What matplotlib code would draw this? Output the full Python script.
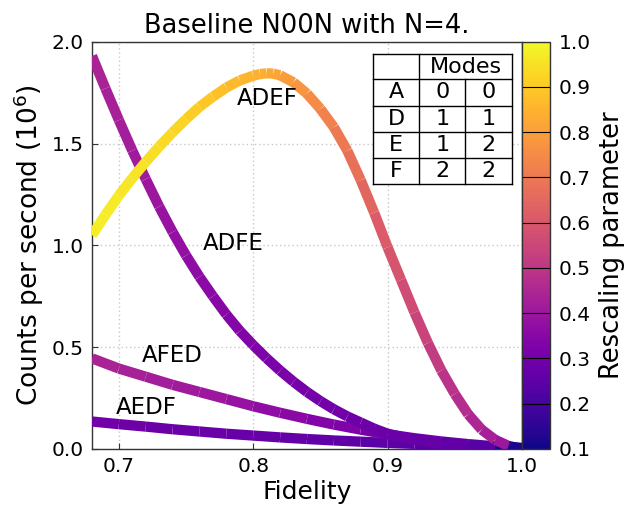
import numpy as np
import matplotlib
matplotlib.use("Agg")
import matplotlib.pyplot as plt
from matplotlib.collections import LineCollection
from matplotlib.colors import Normalize
from matplotlib.cm import ScalarMappable
from matplotlib.lines import Line2D

plt.rcParams["font.family"] = ["DejaVu Sans"]

# ---- data -------------------------------------------------------------
adef_fid = [0.68, 0.69, 0.70, 0.71, 0.72, 0.73, 0.74, 0.75, 0.76, 0.77, 0.78,
            0.79, 0.80, 0.805, 0.81, 0.815, 0.82, 0.83, 0.84, 0.85, 0.86, 0.87, 0.88, 0.89,
            0.90, 0.91, 0.92, 0.93, 0.94, 0.95, 0.96, 0.97, 0.98, 0.99, 1.00]
adef_rate = [1.05, 1.15, 1.245, 1.33, 1.41, 1.485, 1.555, 1.62, 1.68, 1.73, 1.775,
             1.81, 1.833, 1.841, 1.845, 1.843, 1.835, 1.80, 1.745, 1.67, 1.58, 1.465, 1.32, 1.16,
             0.99, 0.83, 0.67, 0.52, 0.385, 0.27, 0.17, 0.095, 0.045, 0.015, 0.0]
adef_scale = [0.98, 0.975, 0.97, 0.96, 0.955, 0.945, 0.935, 0.925, 0.91, 0.895, 0.88,
              0.865, 0.85, 0.842, 0.835, 0.825, 0.815, 0.795, 0.775, 0.75, 0.725, 0.70, 0.675, 0.645,
              0.615, 0.59, 0.565, 0.54, 0.515, 0.49, 0.47, 0.45, 0.43, 0.40, 0.12]

adfe_fid = [0.68, 0.69, 0.70, 0.71, 0.72, 0.73, 0.74, 0.75, 0.76, 0.77, 0.78, 0.79,
            0.80, 0.81, 0.82, 0.83, 0.84, 0.85, 0.86, 0.87, 0.88, 0.89, 0.90,
            0.92, 0.94, 0.96, 0.98, 1.00]
adfe_rate = [1.93, 1.77, 1.615, 1.465, 1.325, 1.19, 1.065, 0.95, 0.845, 0.75, 0.66, 0.58,
             0.51, 0.445, 0.385, 0.33, 0.28, 0.235, 0.195, 0.16, 0.13, 0.10, 0.075,
             0.045, 0.027, 0.016, 0.008, 0.0]
adfe_scale = [0.45, 0.44, 0.43, 0.42, 0.41, 0.40, 0.39, 0.38, 0.37, 0.36, 0.35, 0.342,
              0.335, 0.328, 0.32, 0.315, 0.31, 0.305, 0.30, 0.295, 0.29, 0.287, 0.285,
              0.28, 0.27, 0.26, 0.24, 0.12]

afed_fid = [0.68, 0.70, 0.72, 0.74, 0.76, 0.78, 0.80, 0.82, 0.84, 0.86, 0.88,
            0.90, 0.92, 0.94, 0.96, 0.98, 1.00]
afed_rate = [0.445, 0.395, 0.355, 0.315, 0.28, 0.245, 0.21, 0.178, 0.148, 0.12, 0.095,
             0.072, 0.053, 0.037, 0.024, 0.013, 0.005]
afed_scale = [0.45, 0.44, 0.43, 0.42, 0.41, 0.40, 0.385, 0.37, 0.355, 0.34, 0.325,
              0.31, 0.295, 0.28, 0.265, 0.24, 0.12]

aedf_fid = [0.68, 0.70, 0.72, 0.74, 0.76, 0.78, 0.80, 0.82, 0.84, 0.86, 0.88,
            0.90, 0.92, 0.94, 0.96, 0.98, 1.00]
aedf_rate = [0.135, 0.122, 0.11, 0.097, 0.086, 0.075, 0.066, 0.057, 0.049, 0.042, 0.036,
             0.03, 0.025, 0.02, 0.015, 0.01, 0.005]
aedf_scale = [0.30, 0.295, 0.29, 0.285, 0.28, 0.277, 0.273, 0.27, 0.265, 0.26, 0.255,
              0.25, 0.245, 0.235, 0.22, 0.20, 0.12]

curve_names = ["ADEF", "ADFE", "AFED", "AEDF"]
label_pos = [(0.8105, 1.719), (0.7848, 1.007), (0.7399, 0.457), (0.7201, 0.206)]

table_rows = ["A", "D", "E", "F"]
table_modes = [(0, 0), (1, 1), (1, 2), (2, 2)]

x_ticks = [0.7, 0.8, 0.9, 1.0]
y_ticks = [0.0, 0.5, 1.0, 1.5, 2.0]
cbar_ticks = [0.1, 0.2, 0.3, 0.4, 0.5, 0.6, 0.7, 0.8, 0.9, 1.0]

# ---- figure -----------------------------------------------------------
W, H = 641, 512
fig = plt.figure(figsize=(W / 100, H / 100), dpi=100)

def fx(px):
    return px / W

def fy(py):
    return 1 - py / H

ax = fig.add_axes([fx(92), fy(449), fx(522) - fx(92), fy(41.7) - fy(449)])
cax = fig.add_axes([fx(522), fy(449), fx(550) - fx(522), fy(41.7) - fy(449)])

norm = Normalize(vmin=0.1, vmax=1.0)
cmap = plt.get_cmap("plasma")

ax.grid(True, color="#c8c8c8", linestyle=(0, (1, 2)), linewidth=1.0)
ax.set_axisbelow(True)

series = [(adef_fid, adef_rate, adef_scale),
          (adfe_fid, adfe_rate, adfe_scale),
          (afed_fid, afed_rate, afed_scale),
          (aedf_fid, aedf_rate, aedf_scale)]

for fid, rate, scale in reversed(series):
    pts = np.column_stack([fid, rate])
    segs = np.stack([pts[:-1], pts[1:]], axis=1)
    lc = LineCollection(segs, colors=cmap(norm(np.asarray(scale[1:]))),
                        linewidths=7.4, capstyle="butt", joinstyle="round", zorder=3)
    ax.add_collection(lc)

for name, (lx, ly) in zip(curve_names, label_pos):
    ax.text(lx, ly, name, fontsize=16.5, ha="center", va="center", zorder=5)

ax.set_xlim(0.68, 1.0)
ax.set_ylim(0.0, 2.0)
ax.set_xticks(x_ticks)
ax.set_xticklabels([f"{t:.1f}" for t in x_ticks])
ax.set_yticks(y_ticks)
ax.set_yticklabels([f"{t:.1f}" for t in y_ticks])
ax.tick_params(direction="in", length=4, width=0.8, labelsize=14.5, color="#333333",
               top=False, right=False, pad=6)
for sp in ax.spines.values():
    sp.set_color("#333333")
    sp.set_linewidth(1.0)

ax.set_xlabel("Fidelity", fontsize=18, labelpad=3)
ax.set_ylabel("Counts per second ($10^6$)", fontsize=19, labelpad=4)
ax.set_title("Baseline N00N with N=4.", fontsize=18.5, pad=6)

# ---- colorbar ---------------------------------------------------------
sm = ScalarMappable(norm=norm, cmap=cmap)
cb = fig.colorbar(sm, cax=cax)
cb.set_ticks(cbar_ticks)
cb.set_ticklabels([f"{t:.1f}" for t in cbar_ticks])
cb.ax.tick_params(labelsize=14.5, length=0, pad=6)
cb.outline.set_edgecolor("#333333")
cb.outline.set_linewidth(1.0)
cb.ax.hlines(cbar_ticks[1:-1], 0, 1, transform=cb.ax.get_yaxis_transform(),
             colors="black", linewidth=0.8)
cb.set_label("Rescaling parameter", fontsize=18.5, labelpad=6)

# ---- modes table ------------------------------------------------------
col_x = [372.7, 419.3, 465.0, 511.7]
row_y = [54.3, 79.0, 106.0, 132.3, 158.3, 184.3]

def hline(y, x0, x1):
    fig.add_artist(Line2D([fx(x0), fx(x1)], [fy(y), fy(y)], color="black", lw=1.0))

def vline(x, y0, y1):
    fig.add_artist(Line2D([fx(x), fx(x)], [fy(y0), fy(y1)], color="black", lw=1.0))

fig.add_artist(plt.Rectangle((fx(col_x[0]), fy(row_y[-1])),
                             fx(col_x[-1]) - fx(col_x[0]), fy(row_y[0]) - fy(row_y[-1]),
                             facecolor="white", edgecolor="none", zorder=0.5))
for y in row_y:
    hline(y, col_x[0], col_x[-1])
vline(col_x[0], row_y[0], row_y[-1])
vline(col_x[1], row_y[0], row_y[-1])
vline(col_x[2], row_y[1], row_y[-1])
vline(col_x[3], row_y[0], row_y[-1])

fs_tab = 16
fig.text(fx((col_x[1] + col_x[3]) / 2), fy((row_y[0] + row_y[1]) / 2), "Modes",
         ha="center", va="center", fontsize=fs_tab)
for i, (rname, (m1, m2)) in enumerate(zip(table_rows, table_modes)):
    yc = fy((row_y[i + 1] + row_y[i + 2]) / 2)
    fig.text(fx((col_x[0] + col_x[1]) / 2), yc, rname, ha="center", va="center", fontsize=fs_tab)
    fig.text(fx((col_x[1] + col_x[2]) / 2), yc, str(m1), ha="center", va="center", fontsize=fs_tab)
    fig.text(fx((col_x[2] + col_x[3]) / 2), yc, str(m2), ha="center", va="center", fontsize=fs_tab)

fig.savefig("out.png", dpi=100)
